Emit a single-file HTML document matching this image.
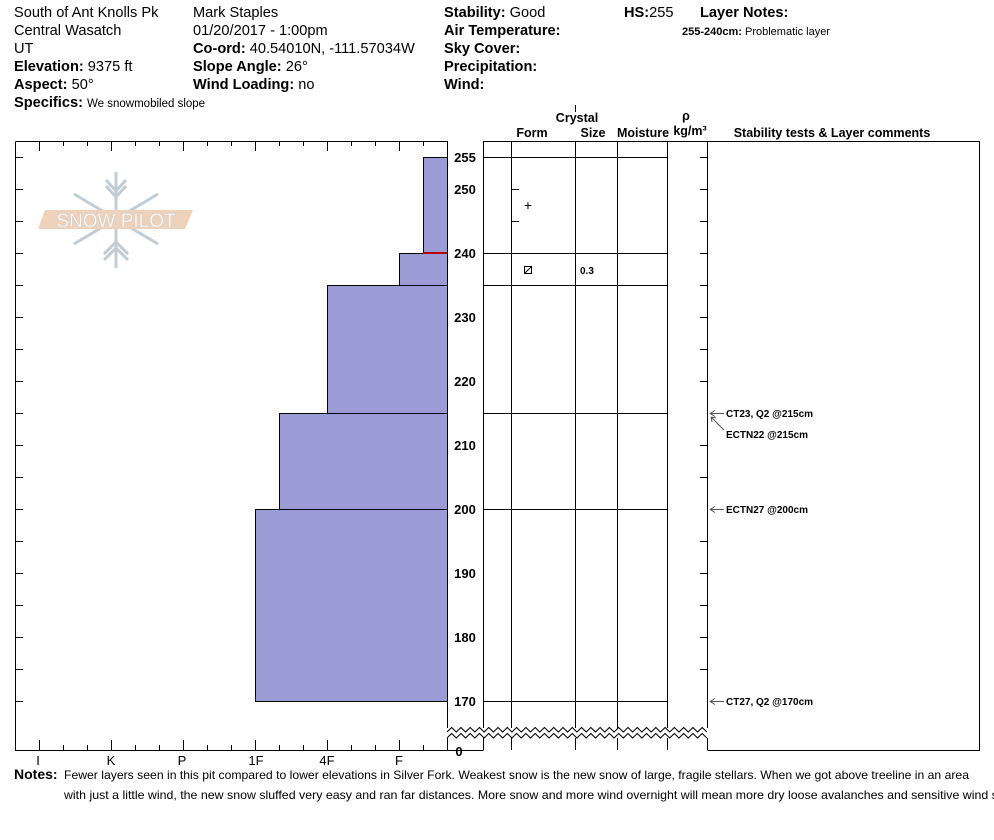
<!DOCTYPE html>
<html><head><style>
body{margin:0;background:#fff;}
svg{display:block;font-family:"Liberation Sans",Arial,sans-serif;}
.b{font-weight:bold}
</style></head><body>
<svg width="994" height="840" viewBox="0 0 994 840" xmlns="http://www.w3.org/2000/svg">
<defs><clipPath id="zc"><rect x="447" y="720" width="261" height="25"/></clipPath></defs>
<g font-size="14.6" fill="#000">
<text x="14" y="17">South of Ant Knolls Pk</text>
<text x="14" y="35">Central Wasatch</text>
<text x="14" y="53">UT</text>
<text x="14" y="71"><tspan class="b">Elevation:</tspan> 9375 ft</text>
<text x="14" y="89"><tspan class="b">Aspect:</tspan> 50°</text>
<text x="14" y="107"><tspan class="b">Specifics:</tspan> <tspan font-size="11.5">We snowmobiled slope</tspan></text>
<text x="193" y="17">Mark Staples</text>
<text x="193" y="35">01/20/2017 - 1:00pm</text>
<text x="193" y="53"><tspan class="b">Co-ord:</tspan> 40.54010N, -111.57034W</text>
<text x="193" y="71"><tspan class="b">Slope Angle:</tspan> 26°</text>
<text x="193" y="89"><tspan class="b">Wind Loading:</tspan> no</text>
<text x="444" y="17"><tspan class="b">Stability:</tspan> Good</text>
<text x="444" y="35" class="b">Air Temperature:</text>
<text x="444" y="53" class="b">Sky Cover:</text>
<text x="444" y="71" class="b">Precipitation:</text>
<text x="444" y="89" class="b">Wind:</text>
<text x="624" y="17"><tspan class="b">HS:</tspan>255</text>
<text x="700" y="17" class="b">Layer Notes:</text>
<text x="682" y="35" font-size="11"><tspan class="b">255-240cm:</tspan> Problematic layer</text>
</g>
<!-- logo -->
<g opacity="0.85">
<g stroke="#b8c4cc" stroke-width="3" fill="none">
<line x1="116" y1="172" x2="116" y2="268"/>
<line x1="74" y1="194" x2="158" y2="244"/>
<line x1="74" y1="244" x2="158" y2="194"/>
<path d="M106 180 L116 191 L126 180 M106 186 L116 197 L126 186 M104 260 L116 248 L128 260 M104 254 L116 242 L128 254"/>
</g>
<polygon points="45,210 193,210 185,229 38,229" fill="#ecc9ae"/>
<text x="116" y="227" font-size="19" fill="#fff" text-anchor="middle" stroke="#c8c8c8" stroke-width="0.5">SNOW PILOT</text>
</g>
<!-- bars -->
<g fill="#9b9bd6" stroke="#000" stroke-width="1">
<rect x="423.5" y="157.5" width="24" height="96"/>
<rect x="399.5" y="253.5" width="48" height="32"/>
<rect x="327.5" y="285.5" width="120" height="128"/>
<rect x="279.5" y="413.5" width="168" height="96"/>
<rect x="255.5" y="509.5" width="192" height="192"/>
</g>
<line x1="423" y1="253" x2="447" y2="253" stroke="#b00" stroke-width="2"/>
<!-- left box -->
<g stroke="#000" stroke-width="1" fill="none">
<path d="M15.5 141.5 H447.5 M15.5 141.5 V750.5 H447.5"/>
<path d="M39.5 141 v10 M111.5 141 v10 M183.5 141 v10 M255.5 141 v10 M327.5 141 v10 M399.5 141 v10
M63.5 141 v5 M87.5 141 v5 M135.5 141 v5 M159.5 141 v5 M207.5 141 v5 M231.5 141 v5 M279.5 141 v5 M303.5 141 v5 M351.5 141 v5 M375.5 141 v5 M423.5 141 v5
M39.5 750 v-10 M111.5 750 v-10 M183.5 750 v-10 M255.5 750 v-10 M327.5 750 v-10 M399.5 750 v-10
M63.5 750 v-5 M87.5 750 v-5 M135.5 750 v-5 M159.5 750 v-5 M207.5 750 v-5 M231.5 750 v-5 M279.5 750 v-5 M303.5 750 v-5 M351.5 750 v-5 M375.5 750 v-5 M423.5 750 v-5"/>
<path d="M15 157.5 h8 M15 189.5 h8 M15 221.5 h8 M15 253.5 h8 M15 285.5 h8 M15 317.5 h8 M15 349.5 h8 M15 381.5 h8 M15 413.5 h8 M15 445.5 h8 M15 477.5 h8 M15 509.5 h8 M15 541.5 h8 M15 573.5 h8 M15 605.5 h8 M15 637.5 h8 M15 669.5 h8 M15 701.5 h8"/>
<path d="M447.5 141 V750 M483.5 141 V750 M483.5 141.5 H979.5 V750.5 H707.5 M511.5 141 V750 M575.5 141 V750 M575.5 105 V112 M617.5 141 V750 M667.5 141 V750 M707.5 141 V750 M447.5 750.5 H483.5"/>
<path d="M483 157.5 H667 M483 253.5 H667 M483 285.5 H667 M483 413.5 H667 M483 509.5 H667 M483 701.5 H667"/>
<path d="M511 189.5 h8 M511 221.5 h8 M700 189.5 h7 M700 221.5 h7 M700 157.5 h7 M700 253.5 h7 M700 285.5 h7 M700 317.5 h7 M700 349.5 h7 M700 381.5 h7 M700 445.5 h7 M700 477.5 h7 M700 541.5 h7 M700 573.5 h7 M700 605.5 h7 M700 637.5 h7 M700 669.5 h7"/>
</g>
<rect x="447" y="728" width="261" height="10" fill="#fff"/>
<g stroke="#000" stroke-width="1" fill="none" clip-path="url(#zc)">
<path d="M447 732 l4.64 -4.5 l4.64 4.5 l4.64 -4.5 l4.64 4.5 l4.64 -4.5 l4.64 4.5 l4.64 -4.5 l4.64 4.5 l4.64 -4.5 l4.64 4.5 l4.64 -4.5 l4.64 4.5 l4.64 -4.5 l4.64 4.5 l4.64 -4.5 l4.64 4.5 l4.64 -4.5 l4.64 4.5 l4.64 -4.5 l4.64 4.5 l4.64 -4.5 l4.64 4.5 l4.64 -4.5 l4.64 4.5 l4.64 -4.5 l4.64 4.5 l4.64 -4.5 l4.64 4.5 l4.64 -4.5 l4.64 4.5 l4.64 -4.5 l4.64 4.5 l4.64 -4.5 l4.64 4.5 l4.64 -4.5 l4.64 4.5 l4.64 -4.5 l4.64 4.5 l4.64 -4.5 l4.64 4.5 l4.64 -4.5 l4.64 4.5 l4.64 -4.5 l4.64 4.5 l4.64 -4.5 l4.64 4.5 l4.64 -4.5 l4.64 4.5 l4.64 -4.5 l4.64 4.5 l4.64 -4.5 l4.64 4.5 l4.64 -4.5 l4.64 4.5 l4.64 -4.5 l4.64 4.5"/>
<path d="M447 738 l4.64 -4.5 l4.64 4.5 l4.64 -4.5 l4.64 4.5 l4.64 -4.5 l4.64 4.5 l4.64 -4.5 l4.64 4.5 l4.64 -4.5 l4.64 4.5 l4.64 -4.5 l4.64 4.5 l4.64 -4.5 l4.64 4.5 l4.64 -4.5 l4.64 4.5 l4.64 -4.5 l4.64 4.5 l4.64 -4.5 l4.64 4.5 l4.64 -4.5 l4.64 4.5 l4.64 -4.5 l4.64 4.5 l4.64 -4.5 l4.64 4.5 l4.64 -4.5 l4.64 4.5 l4.64 -4.5 l4.64 4.5 l4.64 -4.5 l4.64 4.5 l4.64 -4.5 l4.64 4.5 l4.64 -4.5 l4.64 4.5 l4.64 -4.5 l4.64 4.5 l4.64 -4.5 l4.64 4.5 l4.64 -4.5 l4.64 4.5 l4.64 -4.5 l4.64 4.5 l4.64 -4.5 l4.64 4.5 l4.64 -4.5 l4.64 4.5 l4.64 -4.5 l4.64 4.5 l4.64 -4.5 l4.64 4.5 l4.64 -4.5 l4.64 4.5 l4.64 -4.5 l4.64 4.5"/>
</g>
<g font-size="13" font-weight="bold" text-anchor="middle">
<text x="465" y="162">255</text><text x="465" y="194">250</text><text x="465" y="258">240</text><text x="465" y="322">230</text><text x="465" y="386">220</text><text x="465" y="450">210</text><text x="465" y="514">200</text><text x="465" y="578">190</text><text x="465" y="642">180</text><text x="465" y="706">170</text><text x="459" y="756">0</text>
</g>
<g font-size="13" text-anchor="middle">
<text x="38" y="765">I</text><text x="111" y="765">K</text><text x="182" y="765">P</text><text x="256" y="765">1F</text><text x="327" y="765">4F</text><text x="399" y="765">F</text>
</g>
<g font-size="12.5" font-weight="bold" text-anchor="middle">
<text x="577" y="122">Crystal</text>
<text x="532" y="137">Form</text><text x="593" y="137">Size</text><text x="643" y="137">Moisture</text>
<text x="686" y="120">ρ</text><text x="690" y="135">kg/m³</text>
<text x="832" y="137">Stability tests &amp; Layer comments</text>
</g>
<text x="528" y="210" font-size="14" text-anchor="middle">+</text>
<rect x="524.5" y="266.5" width="7" height="7" fill="none" stroke="#000"/>
<line x1="525" y1="273" x2="531" y2="267" stroke="#000"/>
<text x="580" y="274" font-size="10" font-weight="bold">0.3</text>
<g font-size="10" font-weight="bold">
<text x="726" y="417">CT23, Q2 @215cm</text>
<text x="726" y="438">ECTN22 @215cm</text>
<text x="726" y="513">ECTN27 @200cm</text>
<text x="726" y="705">CT27, Q2 @170cm</text>
</g>
<g stroke="#555" fill="none" stroke-width="1">
<path d="M710 413.5 H724 M710 413.5 l5 -3 M710 413.5 l5 3"/>
<path d="M711 417 L724 430 M711 417 l1 5 M711 417 l5 1"/>
<path d="M710 509.5 H724 M710 509.5 l5 -3 M710 509.5 l5 3"/>
<path d="M710 701.5 H724 M710 701.5 l5 -3 M710 701.5 l5 3"/>
</g>
<text x="14" y="779" font-size="14" font-weight="bold">Notes:</text>
<text x="64" y="779" font-size="12" textLength="905" lengthAdjust="spacingAndGlyphs">Fewer layers seen in this pit compared to lower elevations in Silver Fork. Weakest snow is the new snow of large, fragile stellars. When we got above treeline in an area</text>
<text x="64" y="799" font-size="12" textLength="960" lengthAdjust="spacingAndGlyphs">with just a little wind, the new snow sluffed very easy and ran far distances. More snow and more wind overnight will mean more dry loose avalanches and sensitive wind slabs.</text>
</svg>
</body></html>
